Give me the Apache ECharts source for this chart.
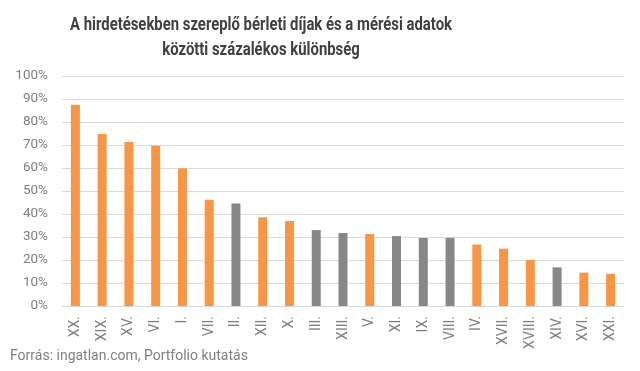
<!DOCTYPE html>
<html><head><meta charset="utf-8">
<script src="https://cdn.jsdelivr.net/npm/echarts@6/dist/echarts.min.js"></script>
<style>html,body{margin:0;padding:0;background:#fff}#c{width:640px;height:371px}</style>
</head><body><div id="c"></div>
<script>
const categories = ["XX.","XIX.","XV.","VI.","I.","VII.","II.","XII.","X.","III.","XIII.","V.","XI.","IX.","VIII.","IV.","XVII.","XVIII.","XIV.","XVI.","XXI."];
const values = [87.5,74.8,71.3,69.7,59.9,46.2,44.6,38.6,37.0,33.0,31.7,31.3,30.4,29.6,29.6,26.7,24.9,20.0,16.8,14.5,14.0];
const isGrey = [false,false,false,false,false,false,true,false,false,true,true,false,true,true,true,false,false,false,true,false,false];
const titleLines = ["A hirdetésekben szereplő bérleti díjak és a mérési adatok","közötti százalékos különbség"];
const sourceText = "Forrás: ingatlan.com, Portfolio kutatás";
const ORANGE = "#f79646", GREY = "#878787";
const titleFont = "bold 18px Roboto";
const ctx = document.createElement('canvas').getContext('2d');
ctx.font = titleFont;
const w1 = ctx.measureText(titleLines[0]).width;
const sx = 382 / w1;
const chart = echarts.init(document.getElementById('c'), null, {renderer:'canvas'});
chart.setOption({
  animation:false,
  graphic:[
    {type:'text', x:261, y:25, scaleX:sx, style:{text:titleLines[0], fill:'#404040', font:titleFont, align:'center', verticalAlign:'middle'}},
    {type:'text', x:261, y:50, scaleX:sx, style:{text:titleLines[1], fill:'#404040', font:titleFont, align:'center', verticalAlign:'middle'}},
    {type:'text', left:10, top:349, style:{text:sourceText, fill:'#7f7f7f', font:'14px Roboto'}}
  ],
  grid:{left:62, right:16, top:76, bottom:65},
  xAxis:{type:'category', data:categories,
    axisLine:{lineStyle:{color:'#d9d9d9'}}, axisTick:{show:false},
    axisLabel:{rotate:90, color:'#7f7f7f', fontFamily:'Roboto', fontSize:14, margin:10, interval:0}},
  yAxis:{type:'value', min:0, max:100, interval:10,
    axisLabel:{formatter:'{value}%', color:'#7f7f7f', fontFamily:'Roboto', fontSize:13.5, margin:14},
    splitLine:{lineStyle:{color:'#d9d9d9'}}, axisLine:{show:false}, axisTick:{show:false}},
  series:[{type:'bar', barWidth:9,
    data: values.map((v,i)=>({value:v, itemStyle:{color: isGrey[i]?GREY:ORANGE}}))}]
});
</script></body></html>
